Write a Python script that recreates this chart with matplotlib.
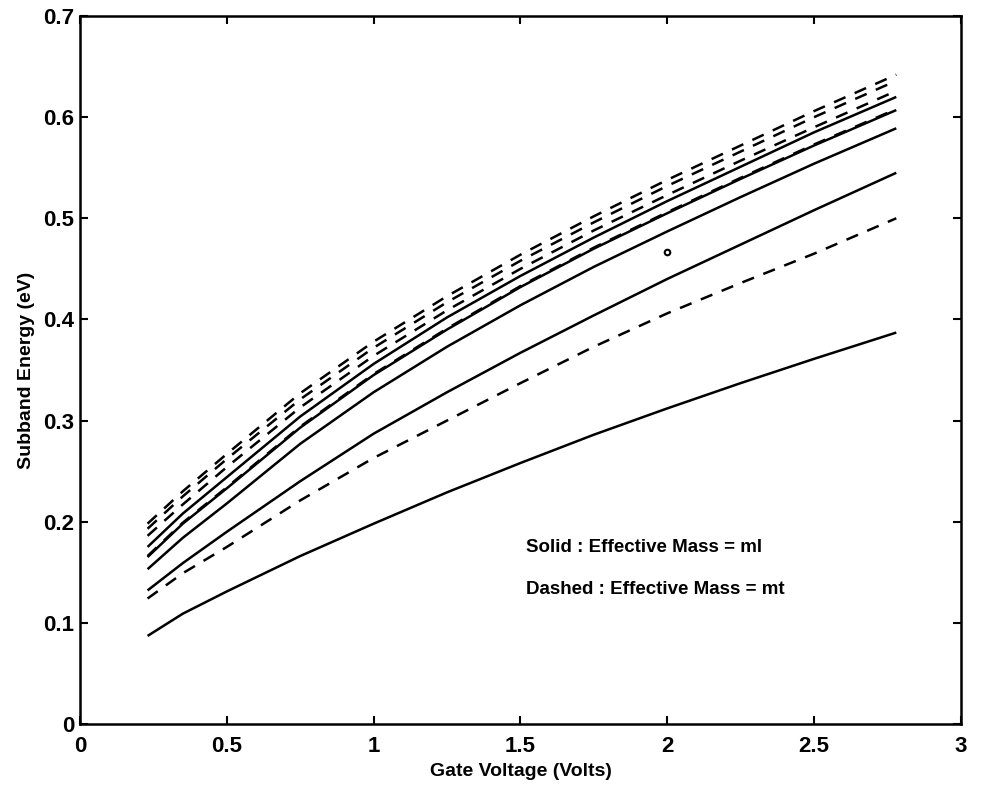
import matplotlib
matplotlib.use("Agg")
import matplotlib.pyplot as plt

# gate voltage samples (V)
vg = [0.23, 0.35, 0.5, 0.75, 1.0, 1.25, 1.5, 1.75, 2.0, 2.25, 2.5, 2.78]

# subband energies (eV), solid = ml
solid_1 = [0.175, 0.208, 0.244, 0.304, 0.356, 0.402, 0.443, 0.481, 0.517, 0.551, 0.585, 0.620]
solid_2 = [0.165, 0.198, 0.233, 0.293, 0.345, 0.390, 0.432, 0.470, 0.505, 0.539, 0.572, 0.607]
solid_3 = [0.153, 0.184, 0.218, 0.277, 0.328, 0.373, 0.414, 0.452, 0.487, 0.521, 0.554, 0.589]
solid_4 = [0.132, 0.159, 0.190, 0.240, 0.287, 0.328, 0.367, 0.404, 0.440, 0.474, 0.508, 0.545]
solid_5 = [0.087, 0.109, 0.131, 0.166, 0.198, 0.229, 0.258, 0.286, 0.312, 0.337, 0.361, 0.387]

# dashed = mt
dashed_1 = [0.198, 0.230, 0.267, 0.327, 0.378, 0.423, 0.464, 0.502, 0.538, 0.572, 0.606, 0.642]
dashed_2 = [0.193, 0.225, 0.262, 0.321, 0.372, 0.417, 0.458, 0.496, 0.532, 0.566, 0.600, 0.636]
dashed_3 = [0.186, 0.217, 0.254, 0.313, 0.364, 0.409, 0.450, 0.488, 0.523, 0.557, 0.590, 0.626]
dashed_4 = [0.166, 0.199, 0.234, 0.294, 0.346, 0.391, 0.433, 0.471, 0.506, 0.540, 0.573, 0.608]
dashed_5 = [0.124, 0.149, 0.175, 0.221, 0.263, 0.300, 0.337, 0.373, 0.406, 0.436, 0.465, 0.500]

solids = [solid_1, solid_2, solid_3, solid_4, solid_5]
dasheds = [dashed_1, dashed_2, dashed_3, dashed_4, dashed_5]

plt.rcParams['font.family'] = ['Liberation Sans', 'DejaVu Sans']
plt.rcParams['font.weight'] = 'bold'

fig = plt.figure(figsize=(9.82, 7.86), dpi=100)
ax = fig.add_axes([0.0815, 0.079, 0.897, 0.9006])

for s in solids:
    ax.plot(vg, s, color='black', lw=1.8, solid_capstyle='butt')
for d in dasheds:
    ax.plot(vg, d, color='black', lw=1.8, dashes=(5, 4))

# small stray mark in the original
ax.plot([2.0], [0.467], marker='o', ms=4, mfc='white', mec='black', mew=1.5)

ax.text(1.52, 0.174, 'Solid : Effective Mass = ml', fontsize=13.5, fontweight='bold', va='center')
ax.text(1.52, 0.133, 'Dashed : Effective Mass = mt', fontsize=13.5, fontweight='bold', va='center')

ax.set_xlim(0, 3)
ax.set_ylim(0, 0.7)
ax.set_xticks([0, 0.5, 1, 1.5, 2, 2.5, 3])
ax.set_xticklabels(['0', '0.5', '1', '1.5', '2', '2.5', '3'])
ax.set_yticks([0, 0.1, 0.2, 0.3, 0.4, 0.5, 0.6, 0.7])
ax.set_yticklabels(['0', '0.1', '0.2', '0.3', '0.4', '0.5', '0.6', '0.7'])
ax.tick_params(direction='in', length=6, width=1.5, top=True, right=True, labelsize=16)
ax.tick_params(axis='x', pad=9)
ax.tick_params(axis='y', pad=4)
for lab in ax.get_xticklabels() + ax.get_yticklabels():
    lab.set_fontweight('bold')
for sp in ax.spines.values():
    sp.set_linewidth(1.8)

ax.set_xlabel('Gate Voltage (Volts)', fontsize=14, fontweight='bold', labelpad=4)
ax.set_ylabel('Subband Energy (eV)', fontsize=14, fontweight='bold', labelpad=6)

fig.savefig('out.png', dpi=100)
